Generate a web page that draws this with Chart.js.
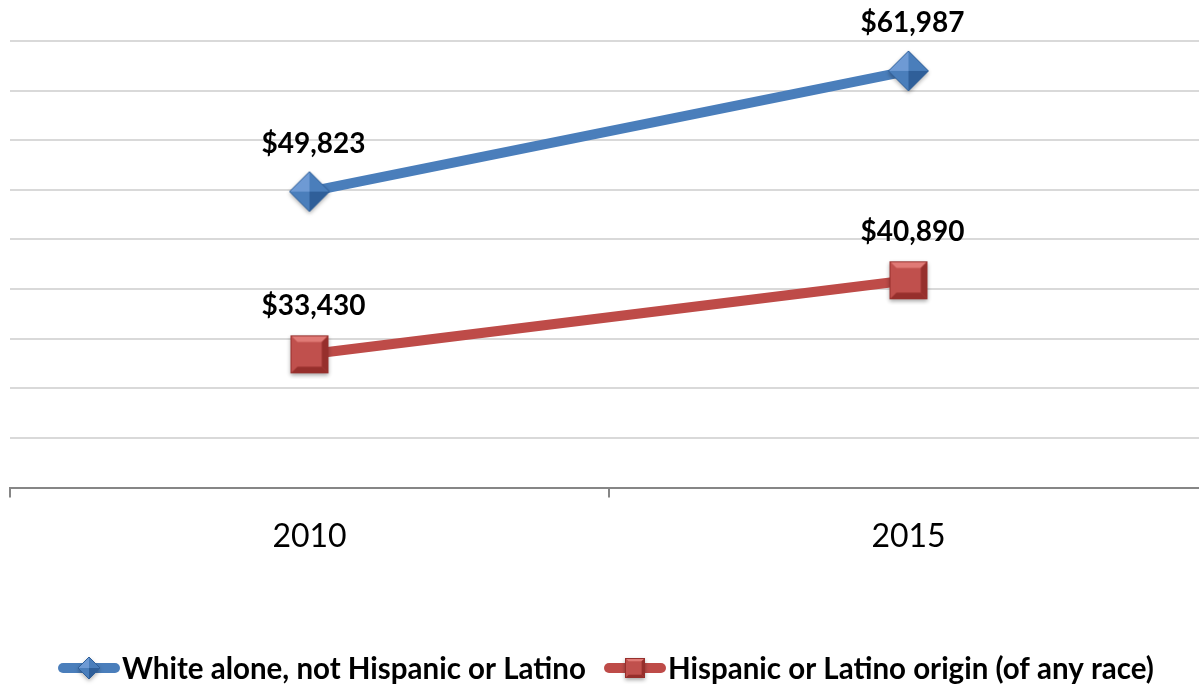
<!DOCTYPE html>
<html>
<head>
<meta charset="utf-8">
<script src="https://cdn.jsdelivr.net/npm/chart.js@4"></script>
<style>
  html, body { margin: 0; padding: 0; background: #fff; overflow: hidden; }
  #wrap { width: 1208px; height: 688px; position: relative; }
</style>
</head>
<body>
<div id="wrap"><canvas id="incomeChart"></canvas></div>
<script>
const years = ['2010', '2015'];
const whiteIncome = [49823, 61987];
const hispanicIncome = [33430, 40890];
const seriesNames = ['White alone, not Hispanic or Latino', 'Hispanic or Latino origin (of any race)'];

const FONT = 'Lato, "Open Sans", sans-serif';

// beveled marker drawn to an offscreen canvas, used as pointStyle
function makeMarker(shape, base, light, dark, size) {
    const pad = 6;
    const c = document.createElement('canvas');
    c.width = size + pad * 2;
    c.height = size + pad * 2;
    const g = c.getContext('2d');
    const h = size / 2, cx = c.width / 2, cy = c.height / 2;

    g.save();
    g.shadowColor = 'rgba(0,0,0,0.35)';
    g.shadowBlur = 4;
    g.shadowOffsetY = 2;
    g.beginPath();
    if (shape === 'diamond') {
        g.moveTo(cx, cy - h); g.lineTo(cx + h, cy); g.lineTo(cx, cy + h); g.lineTo(cx - h, cy);
    } else {
        g.rect(cx - h, cy - h, size, size);
    }
    g.closePath();
    g.fillStyle = base;
    g.fill();
    g.restore();

    // bevel faces
    const b = size * 0.18;
    if (shape === 'diamond') {
        g.fillStyle = light;
        g.beginPath(); g.moveTo(cx, cy - h); g.lineTo(cx - h, cy); g.lineTo(cx, cy); g.closePath(); g.fill();
        g.fillStyle = base;
        g.beginPath(); g.moveTo(cx, cy - h); g.lineTo(cx + h, cy); g.lineTo(cx, cy); g.closePath(); g.fill();
        g.fillStyle = dark;
        g.beginPath(); g.moveTo(cx, cy + h); g.lineTo(cx + h, cy); g.lineTo(cx, cy); g.closePath(); g.fill();
        g.fillStyle = base;
        g.beginPath(); g.moveTo(cx, cy + h); g.lineTo(cx - h, cy); g.lineTo(cx, cy); g.closePath(); g.fill();
        g.strokeStyle = dark;
        g.lineWidth = 1;
        g.beginPath();
        g.moveTo(cx, cy - h); g.lineTo(cx + h, cy); g.lineTo(cx, cy + h); g.lineTo(cx - h, cy); g.closePath();
        g.stroke();
    } else {
        const x0 = cx - h, y0 = cy - h, x1 = cx + h, y1 = cy + h;
        g.fillStyle = light;
        g.beginPath(); g.moveTo(x0, y0); g.lineTo(x1, y0); g.lineTo(x1 - b, y0 + b); g.lineTo(x0 + b, y0 + b); g.closePath(); g.fill();
        g.fillStyle = dark;
        g.beginPath(); g.moveTo(x0, y1); g.lineTo(x1, y1); g.lineTo(x1 - b, y1 - b); g.lineTo(x0 + b, y1 - b); g.closePath(); g.fill();
        g.beginPath(); g.moveTo(x1, y0); g.lineTo(x1, y1); g.lineTo(x1 - b, y1 - b); g.lineTo(x1 - b, y0 + b); g.closePath(); g.fill();
        g.fillStyle = base;
        g.beginPath(); g.moveTo(x0, y0); g.lineTo(x0, y1); g.lineTo(x0 + b, y1 - b); g.lineTo(x0 + b, y0 + b); g.closePath(); g.fill();
        g.fillStyle = base;
        g.fillRect(x0 + b, y0 + b, size - 2 * b, size - 2 * b);
        g.strokeStyle = dark;
        g.lineWidth = 1;
        g.strokeRect(x0 + 0.5, y0 + 0.5, size - 1, size - 1);
    }
    return c;
}

const blueMarker = makeMarker('diamond', '#4a7ebb', '#6e9ad4', '#2f5f99', 40);
const redMarker = makeMarker('square', '#c0504d', '#e07a76', '#962f2c', 38);
const blueSmall = makeMarker('diamond', '#4a7ebb', '#6e9ad4', '#2f5f99', 22);
const redSmall = makeMarker('square', '#c0504d', '#e07a76', '#962f2c', 20);

// "$49,823" style labels above each point
const valueLabels = {
    id: 'valueLabels',
    afterDatasetsDraw(chart) {
        const ctx = chart.ctx;
        ctx.save();
        ctx.font = 'bold 28px ' + FONT;
        ctx.fillStyle = '#000';
        ctx.textAlign = 'center';
        ctx.textBaseline = 'middle';
        chart.data.datasets.forEach((ds, i) => {
            chart.getDatasetMeta(i).data.forEach((pt, j) => {
                ctx.fillText('$' + ds.data[j].toLocaleString('en-US'), pt.x + 4, pt.y - 48);
            });
        });
        ctx.restore();
    }
};

// legend row: thick line with the marker on it, then the series name
const lineLegend = {
    id: 'lineLegend',
    afterDraw(chart) {
        const ctx = chart.ctx;
        const y = 668;
        const items = [
            { x: 58, color: '#4a7ebb', icon: blueSmall },
            { x: 604, color: '#be4b48', icon: redSmall }
        ];
        ctx.save();
        ctx.font = 'bold 29.5px ' + FONT;
        ctx.textBaseline = 'middle';
        ctx.fillStyle = '#000';
        items.forEach((it, i) => {
            ctx.strokeStyle = it.color;
            ctx.lineWidth = 10;
            ctx.lineCap = 'round';
            ctx.beginPath();
            ctx.moveTo(it.x + 5, y);
            ctx.lineTo(it.x + 57, y);
            ctx.stroke();
            ctx.drawImage(it.icon, it.x + 31 - it.icon.width / 2, y - it.icon.height / 2);
            ctx.fillText(chart.data.datasets[i].label, it.x + 64, y + 1);
        });
        ctx.restore();
    }
};

const ctx = document.getElementById('incomeChart').getContext('2d');
const incomeChart = new Chart(ctx, {
    type: 'line',
    data: {
        labels: years,
        datasets: [{
            label: seriesNames[0],
            data: whiteIncome,
            borderColor: '#4a7ebb',
            borderWidth: 10,
            pointStyle: blueMarker,
            clip: false
        }, {
            label: seriesNames[1],
            data: hispanicIncome,
            borderColor: '#be4b48',
            borderWidth: 10,
            pointStyle: redMarker,
            clip: false
        }]
    },
    options: {
        responsive: true,
        maintainAspectRatio: false,
        animation: false,
        layout: { autoPadding: false, padding: { left: 10, right: 0, top: 41, bottom: 112 } },
        plugins: {
            legend: { display: false },
            tooltip: { enabled: false }
        },
        scales: {
            x: {
                offset: true,
                grid: { offset: true, drawOnChartArea: false, drawTicks: true, tickLength: 10, color: '#868686', lineWidth: 2 },
                border: { color: '#868686', width: 2 },
                ticks: { color: '#000', padding: 20, font: { family: FONT, size: 32 } }
            },
            y: {
                min: 20000,
                max: 65000,
                ticks: { display: false, stepSize: 5000 },
                grid: { color: '#d9d9d9', lineWidth: 2, drawTicks: false },
                border: { display: false }
            }
        }
    },
    plugins: [valueLabels, lineLegend]
});
</script>
</body>
</html>
